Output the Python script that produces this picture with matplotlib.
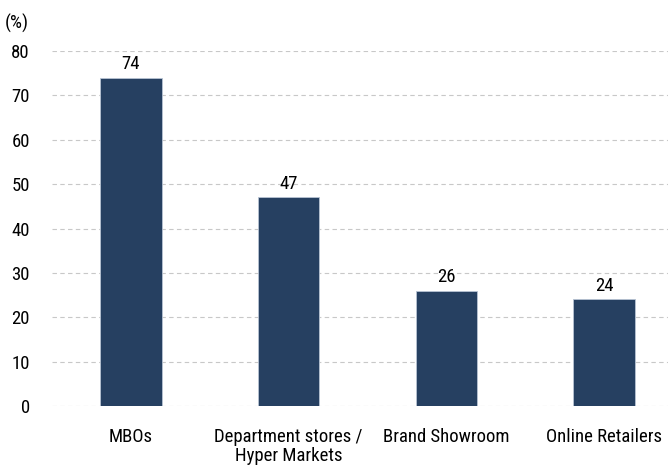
import matplotlib.pyplot as plt

categories = ["MBOs", "Department stores /\nHyper Markets", "Brand Showroom", "Online Retailers"]
values = [74, 47, 26, 24]
y_ticks = [0, 10, 20, 30, 40, 50, 60, 70, 80]

# condensed-looking face if present, otherwise Roboto
plt.rcParams["font.family"] = ["Liberation Sans Narrow", "Roboto Condensed", "Roboto", "DejaVu Sans"]
plt.rcParams["font.stretch"] = "condensed"

fig = plt.figure(figsize=(6.68, 4.68), dpi=100)
ax = fig.add_axes([0.078, 0.1325, 0.922, 0.7585])

x = range(len(categories))
ax.bar(x, values, width=0.39, color="#264061", edgecolor="#b8c4d4", linewidth=0.6, zorder=3)
for xi, v in zip(x, values):
    ax.text(xi, v + 1.0, str(v), ha="center", va="bottom", fontsize=13.5)

ax.set_xlim(-0.5, 3.406)
ax.set_ylim(0, 80)
ax.set_yticks(y_ticks)
ax.set_xticks(list(x))
ax.set_xticklabels(categories, fontsize=13.5, linespacing=1.05)
ax.tick_params(axis="y", labelsize=13.5, length=0, pad=16)
ax.tick_params(axis="x", length=0, pad=16)
ax.grid(axis="y", color="#c8c8c8", linestyle=(0, (4, 3)), linewidth=0.8, zorder=0)
for s in ax.spines.values():
    s.set_visible(False)
ax.text(-0.058, 1.05, "(%)", transform=ax.transAxes, ha="center", va="bottom", fontsize=13.5)

fig.savefig("out.png", dpi=100)
